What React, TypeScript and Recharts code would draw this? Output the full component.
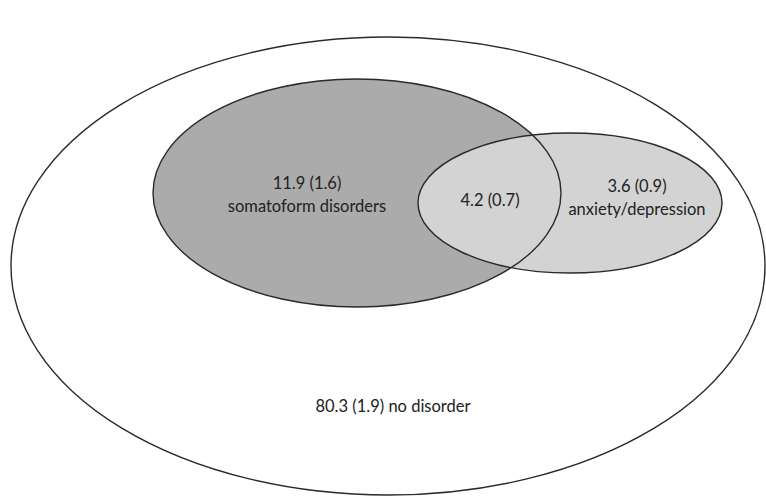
import React from "react";
import { ReferenceArea, Scatter, ScatterChart, XAxis, YAxis } from "recharts";

// drawing space matches the picture: 766 x 497, y grows downward
const W = 766;
const H = 497;

// ellipses: centre and radii in chart units
const sets = [
  { key: "all", cx: 388, cy: 266, rx: 377, ry: 229, fill: "#ffffff" },
  { key: "somatoform", cx: 357, cy: 193, rx: 204, ry: 114, fill: "#ababab" },
  { key: "anxiety", cx: 570, cy: 203, rx: 152, ry: 70, fill: "#d3d3d3" },
];

// label lines
const labels = [
  { x: 307, y: 185, text: "11.9 (1.6)" },
  { x: 307, y: 208, text: "somatoform disorders" },
  { x: 490, y: 202, text: "4.2 (0.7)" },
  { x: 637, y: 188, text: "3.6 (0.9)" },
  { x: 637, y: 211, text: "anxiety/depression" },
  { x: 393, y: 408, text: "80.3 (1.9) no disorder" },
];

const STROKE = "#2a2a2a";

if (typeof document !== "undefined") document.body.style.margin = "0";

function ellipseShape(fill: string, stroke: string | undefined) {
  return (p: any) => (
    <ellipse
      cx={p.x + p.width / 2}
      cy={p.y + p.height / 2}
      rx={Math.abs(p.width) / 2}
      ry={Math.abs(p.height) / 2}
      fill={fill}
      stroke={stroke ?? "none"}
      strokeWidth={1.4}
    />
  );
}

export default function App() {
  const [outer, soma, anx] = sets;
  const area = (s: (typeof sets)[number], fill: string, stroke: string | undefined, k: string) => (
    <ReferenceArea
      key={k}
      x1={s.cx - s.rx}
      x2={s.cx + s.rx}
      y1={s.cy - s.ry}
      y2={s.cy + s.ry}
      ifOverflow="visible"
      shape={ellipseShape(fill, stroke)}
    />
  );
  return (
    <div style={{ width: W, height: H, background: "#fff" }}>
      <ScatterChart width={W} height={H} margin={{ top: 0, right: 0, bottom: 0, left: 0 }}>
        <XAxis type="number" dataKey="x" domain={[0, W]} hide />
        <YAxis type="number" dataKey="y" domain={[0, H]} reversed hide />
        {area(outer, outer.fill, STROKE, "outer")}
        {area(soma, soma.fill, undefined, "soma-fill")}
        {area(anx, anx.fill, STROKE, "anx")}
        {area(soma, "none", STROKE, "soma-line")}
        <Scatter
          data={labels}
          isAnimationActive={false}
          shape={(p: any) => (
            <text
              x={p.cx}
              y={p.cy}
              textAnchor="middle"
              dominantBaseline="middle"
              fontFamily="Lato, 'Open Sans', sans-serif"
              fontSize={16.5}
              fill="#222"
            >
              {p.payload.text}
            </text>
          )}
        />
      </ScatterChart>
    </div>
  );
}
